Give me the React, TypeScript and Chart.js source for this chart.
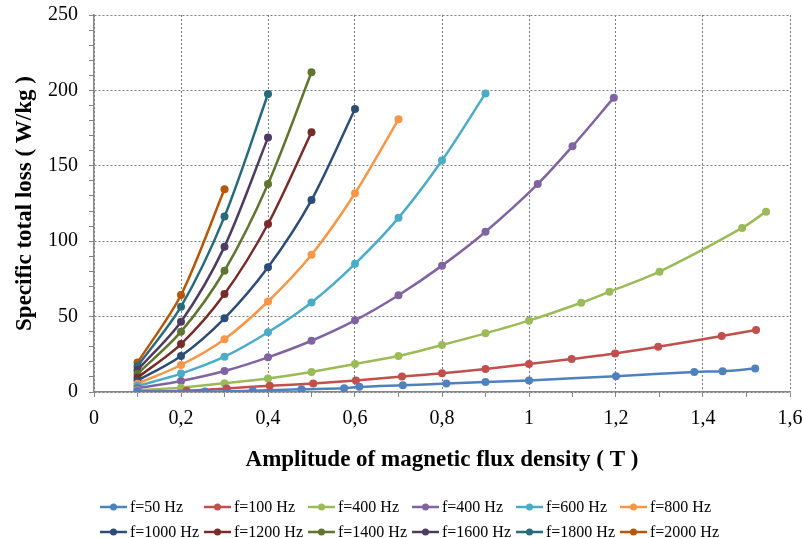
import React, { useEffect, useRef } from 'react';
import { Chart, registerables } from 'chart.js';

Chart.register(...registerables);

const seriesNames = [
  'f=50 Hz', 'f=100 Hz', 'f=400 Hz', 'f=400 Hz', 'f=600 Hz', 'f=800 Hz',
  'f=1000 Hz', 'f=1200 Hz', 'f=1400 Hz', 'f=1600 Hz', 'f=1800 Hz', 'f=2000 Hz',
];
const seriesColors = [
  '#4F81BD', '#C0504D', '#9BBB59', '#8064A2', '#4BACC6', '#F79646',
  '#2C4D75', '#772C2A', '#5F7530', '#4D3B62', '#276A7C', '#B65708',
];

const b50 = [0.1, 0.255, 0.365, 0.477, 0.575, 0.61, 0.71, 0.81, 0.9, 1.0, 1.2, 1.38, 1.445, 1.52];
const p50 = [0.3, 0.3, 0.9, 1.8, 2.5, 3.4, 4.5, 5.6, 6.6, 7.7, 10.5, 13.3, 13.8, 15.6];

const b100 = [0.1, 0.213, 0.305, 0.404, 0.504, 0.602, 0.708, 0.8, 0.9, 1.0, 1.098, 1.198, 1.297, 1.443, 1.522];
const p100 = [0.5, 0.8, 2.4, 4.1, 5.7, 7.6, 10.2, 12.4, 15.2, 18.6, 21.9, 25.6, 30.0, 37.1, 41.1];

const b400a = [0.1, 0.2, 0.3, 0.4, 0.5, 0.6, 0.7, 0.8, 0.9, 1.0, 1.12, 1.185, 1.3, 1.49, 1.545];
const p400a = [1.2, 2.9, 5.8, 9.0, 13.3, 18.6, 23.9, 31.2, 38.9, 47.3, 59.2, 66.5, 79.8, 108.8, 119.6];

const b400b = [0.1, 0.2, 0.3, 0.4, 0.5, 0.6, 0.7, 0.8, 0.9, 1.02, 1.1, 1.195];
const p400b = [2.5, 7.3, 13.9, 23.0, 34.0, 47.5, 64.2, 83.8, 106.3, 137.9, 163.0, 195.2];

const b600 = [0.1, 0.2, 0.3, 0.4, 0.5, 0.6, 0.7, 0.8, 0.9];
const p600 = [4.0, 12.2, 23.4, 39.6, 59.4, 85.0, 115.5, 153.5, 198.0];

const b800 = [0.1, 0.2, 0.3, 0.4, 0.5, 0.6, 0.7];
const p800 = [5.5, 17.9, 35.0, 60.0, 91.0, 131.8, 180.8];

const b1000 = [0.1, 0.2, 0.3, 0.4, 0.5, 0.6];
const p1000 = [7.5, 23.9, 48.9, 82.7, 127.3, 187.7];

const b1200 = [0.1, 0.2, 0.3, 0.4, 0.5];
const p1200 = [9.5, 31.8, 65.0, 111.4, 172.2];

const b1400 = [0.1, 0.2, 0.3, 0.4, 0.5];
const p1400 = [12.0, 40.0, 80.4, 137.9, 212.0];

const b1600 = [0.1, 0.2, 0.3, 0.4];
const p1600 = [14.5, 46.6, 96.4, 168.7];

const b1800 = [0.1, 0.2, 0.3, 0.4];
const p1800 = [17.0, 56.6, 116.3, 197.6];

const b2000 = [0.1, 0.2, 0.3];
const p2000 = [19.5, 64.3, 134.4];

const seriesB = [b50, b100, b400a, b400b, b600, b800, b1000, b1200, b1400, b1600, b1800, b2000];
const seriesP = [p50, p100, p400a, p400b, p600, p800, p1000, p1200, p1400, p1600, p1800, p2000];

const xTitle = 'Amplitude of magnetic flux density ( T )';
const yTitle = 'Specific total loss ( W/kg )';

const SERIF = "'Times New Roman', 'Liberation Serif', serif";
const GRID = '#7a7a7a';
const AXIS = '#868686';

const gridLegend = {
  id: 'gridLegend',
  afterDraw(chart: any) {
    const ctx = chart.ctx;
    ctx.save();
    ctx.font = `16px ${SERIF}`;
    ctx.textBaseline = 'middle';
    ctx.textAlign = 'left';
    chart.data.datasets.forEach((ds: any, i: number) => {
      const col = i % 6;
      const row = Math.floor(i / 6);
      const x0 = 100 + col * 104;
      const y = 507 + row * 25;
      ctx.strokeStyle = ds.borderColor;
      ctx.lineWidth = 2.5;
      ctx.beginPath();
      ctx.moveTo(x0, y);
      ctx.lineTo(x0 + 27, y);
      ctx.stroke();
      ctx.fillStyle = ds.borderColor;
      ctx.beginPath();
      ctx.arc(x0 + 13.5, y, 3.5, 0, Math.PI * 2);
      ctx.fill();
      ctx.fillStyle = '#000';
      ctx.fillText(ds.label, x0 + 30, y + 1);
    });
    ctx.restore();
  },
};

const fmtX = (v: number) => {
  const r = Math.round(v * 10);
  if (r % 2 !== 0) return '';
  if (r === 0) return '0';
  return String(+(r / 10).toFixed(1)).replace('.', ',');
};

export default function App() {
  const ref = useRef<HTMLCanvasElement | null>(null);

  useEffect(() => {
    if (!ref.current) return;
    const datasets = seriesNames.map((name, i) => ({
      label: name,
      data: seriesB[i].map((b, j) => ({ x: b, y: seriesP[i][j] })),
      borderColor: seriesColors[i],
      backgroundColor: seriesColors[i],
      pointBackgroundColor: seriesColors[i],
      pointBorderColor: seriesColors[i],
      borderWidth: 2.5,
      pointRadius: 4,
      pointBorderWidth: 0,
      tension: 0.3,
      fill: false,
    }));
    const chart = new Chart(ref.current, {
      type: 'line',
      data: { datasets },
      plugins: [gridLegend],
      options: {
        animation: false,
        responsive: true,
        maintainAspectRatio: false,
        layout: { padding: { left: 0, top: 15, right: 12, bottom: 64 } },
        plugins: {
          legend: { display: false },
          tooltip: { enabled: false },
          title: { display: false },
        },
        scales: {
          x: {
            type: 'linear',
            min: 0,
            max: 1.6,
            afterFit: (s: any) => {
              s.height = 82;
              s.paddingLeft = 0;
              s.paddingRight = 0;
            },
            ticks: {
              stepSize: 0.1,
              autoSkip: false,
              maxRotation: 0,
              padding: 10,
              color: '#000',
              font: { family: SERIF, size: 20 },
              callback: (v: any) => fmtX(Number(v)),
            },
            grid: {
              color: (c: any) => (Math.round(c.tick.value * 10) % 2 === 0 ? GRID : 'rgba(0,0,0,0)'),
              tickColor: AXIS,
              tickLength: 5,
              lineWidth: 1,
            },
            border: { display: true, color: AXIS, width: 1.5, dash: [2, 2] },
            title: {
              display: true,
              text: xTitle,
              color: '#000',
              font: { family: SERIF, size: 23, weight: 'bold' },
              padding: { top: 0, bottom: 0 },
            },
          },
          y: {
            type: 'linear',
            min: 0,
            max: 250,
            afterFit: (s: any) => {
              s.width = 94;
              s.paddingTop = 0;
              s.paddingBottom = 0;
            },
            ticks: {
              stepSize: 10,
              autoSkip: false,
              padding: 11,
              color: '#000',
              font: { family: SERIF, size: 20 },
              callback: (v: any) => (Number(v) % 50 === 0 ? String(v) : ''),
            },
            grid: {
              color: (c: any) => (Math.round(c.tick.value) % 50 === 0 ? GRID : 'rgba(0,0,0,0)'),
              tickColor: AXIS,
              tickLength: 5,
              lineWidth: 1,
            },
            border: { display: true, color: AXIS, width: 1.5, dash: [2, 2] },
            title: {
              display: true,
              text: yTitle,
              color: '#000',
              font: { family: SERIF, size: 23, weight: 'bold' },
              padding: { top: 11, bottom: 0 },
            },
          },
        },
      },
    });
    return () => chart.destroy();
  }, []);

  return (
    <div style={{ position: 'fixed', left: 0, top: 0, width: 802, height: 538, background: '#fff' }}>
      <canvas ref={ref} />
    </div>
  );
}
